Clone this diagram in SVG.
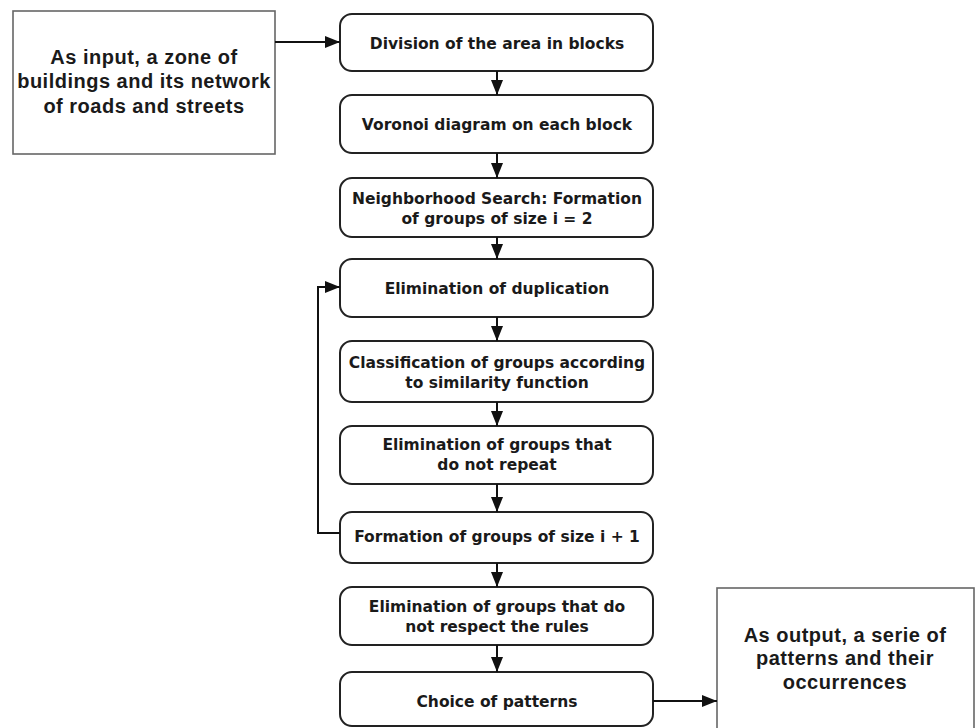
<svg xmlns="http://www.w3.org/2000/svg" width="976" height="728" viewBox="0 0 976 728">
<defs>
<marker id="ah" viewBox="0 0 15 12" refX="15" refY="6" markerWidth="15" markerHeight="12" markerUnits="userSpaceOnUse" orient="auto">
<path d="M0,0 L15,6 L0,12 Z" fill="#111"/>
</marker>
<style>
.proc rect{fill:#fff;stroke:#222;stroke-width:2}
.io rect{fill:#fff;stroke:#666;stroke-width:1.6}
.pt{font-family:"DejaVu Sans",Verdana,sans-serif;font-weight:bold;font-size:15.5px;fill:#1a1a1a;text-anchor:middle}
.it{font-family:"Liberation Sans",Arial,sans-serif;font-weight:bold;font-size:20px;letter-spacing:0.5px;fill:#1a1a1a;text-anchor:middle}
.c{fill:none;stroke:#111;stroke-width:2;marker-end:url(#ah)}
</style>
</defs>
<rect width="976" height="728" fill="#fff"/>
<g id="input" class="io">
<rect x="13" y="11" width="262" height="143"/>
<text class="it" x="144" y="64">As input, a zone of</text>
<text class="it" x="144" y="88">buildings and its network</text>
<text class="it" x="144" y="113">of roads and streets</text>
</g>
<g id="n1" class="proc">
<rect x="340" y="14" width="313" height="57" rx="12"/>
<text class="pt" x="497" y="49">Division of the area in blocks</text>
</g>
<g id="n2" class="proc">
<rect x="340" y="95" width="313" height="58" rx="12"/>
<text class="pt" x="497" y="130">Voronoi diagram on each block</text>
</g>
<g id="n3" class="proc">
<rect x="340" y="178" width="313" height="59" rx="12"/>
<text class="pt" x="497" y="204">Neighborhood Search: Formation</text>
<text class="pt" x="497" y="224">of groups of size i = 2</text>
</g>
<g id="n4" class="proc">
<rect x="340" y="259" width="313" height="58" rx="12"/>
<text class="pt" x="497" y="294">Elimination of duplication</text>
</g>
<g id="n5" class="proc">
<rect x="340" y="341" width="313" height="61" rx="12"/>
<text class="pt" x="497" y="368">Classification of groups according</text>
<text class="pt" x="497" y="388">to similarity function</text>
</g>
<g id="n6" class="proc">
<rect x="340" y="426" width="313" height="58" rx="12"/>
<text class="pt" x="497" y="450">Elimination of groups that</text>
<text class="pt" x="497" y="470">do not repeat</text>
</g>
<g id="n7" class="proc">
<rect x="340" y="512" width="313" height="51" rx="12"/>
<text class="pt" x="497" y="542">Formation of groups of size i + 1</text>
</g>
<g id="n8" class="proc">
<rect x="340" y="587" width="313" height="58" rx="12"/>
<text class="pt" x="497" y="612">Elimination of groups that do</text>
<text class="pt" x="497" y="632">not respect the rules</text>
</g>
<g id="n9" class="proc">
<rect x="340" y="672" width="313" height="54" rx="12"/>
<text class="pt" x="497" y="707">Choice of patterns</text>
</g>
<g id="output" class="io">
<rect x="717" y="588" width="257" height="142"/>
<text class="it" x="845" y="642">As output, a serie of</text>
<text class="it" x="845" y="665">patterns and their</text>
<text class="it" x="845" y="689">occurrences</text>
</g>
<g id="connectors">
<path class="c" d="M275,42 L340,42"/>
<path class="c" d="M497,71 L497,95"/>
<path class="c" d="M497,153 L497,178"/>
<path class="c" d="M497,237 L497,259"/>
<path class="c" d="M497,317 L497,341"/>
<path class="c" d="M497,402 L497,426"/>
<path class="c" d="M497,484 L497,512"/>
<path class="c" d="M497,563 L497,587"/>
<path class="c" d="M497,645 L497,672"/>
<path class="c" d="M340,533 L318,533 L318,287 L340,287"/>
<path class="c" d="M653,701 L717,701"/>
</g>
</svg>
